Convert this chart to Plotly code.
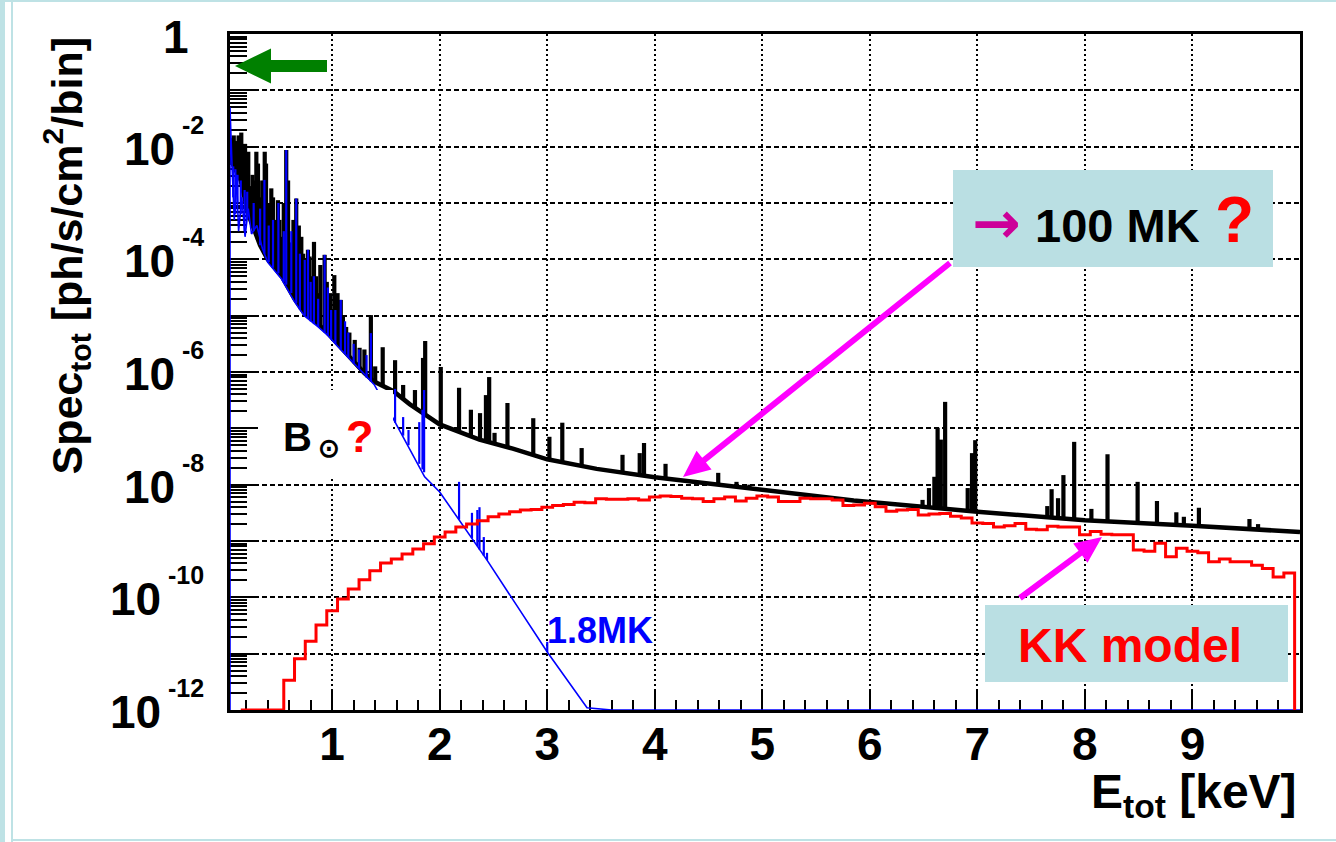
import numpy as np
import plotly.graph_objects as go

# ---------------------------------------------------------------------------
# Solar X-ray spectrum: total model (black), 1.8 MK quiet-Sun component (blue)
# and the KK model histogram (red).  Flux in ph/s/cm^2/bin vs. energy in keV.
# All fluxes below are log10(flux).
# ---------------------------------------------------------------------------

# total spectrum - continuum
black_cont_E = [0.05, 0.10, 0.15, 0.22, 0.33, 0.40, 0.53, 0.65, 0.74, 0.87,
                0.96, 1.06, 1.18, 1.30, 1.39, 1.57, 1.72, 1.88, 2.00, 2.37,
                2.68, 3.00, 3.46, 4.00, 5.00, 5.85, 7.00, 8.00, 9.00, 10.0]
black_cont_lg = [-2.20, -2.40, -2.60, -3.20, -3.75, -4.00, -4.30, -4.70, -4.95, -5.15,
                 -5.31, -5.52, -5.76, -6.02, -6.17, -6.34, -6.57, -6.77, -6.93, -7.20,
                 -7.36, -7.55, -7.72, -7.87, -8.10, -8.28, -8.48, -8.63, -8.73, -8.84]

# total spectrum - emission lines (energy, foot on the continuum, peak)
black_line_E = [0.06, 0.07, 0.085, 0.10, 0.115, 0.13, 0.14, 0.155, 0.17, 0.19,
                0.205, 0.22, 0.24, 0.26, 0.28, 0.295, 0.31, 0.33, 0.35, 0.373,
                0.385, 0.40, 0.415, 0.434, 0.45, 0.47, 0.496, 0.51, 0.53, 0.55,
                0.573, 0.59, 0.61, 0.64, 0.666, 0.69, 0.713, 0.73, 0.745, 0.76,
                0.775, 0.79, 0.81, 0.831, 0.85, 0.868, 0.89, 0.93, 0.95, 0.98,
                1.00, 1.02, 1.05, 1.08, 1.10, 1.13, 1.16, 1.21, 1.255, 1.30,
                1.36, 1.40, 1.47, 1.585, 1.66, 1.77, 1.845, 1.865, 2.01, 2.18,
                2.29, 2.375, 2.43, 2.46, 2.51, 2.63, 2.87, 3.02, 3.14, 3.32,
                3.70, 3.86, 3.90, 4.10, 4.59, 4.76, 4.88, 6.49, 6.55, 6.60,
                6.63, 6.66, 6.70, 6.91, 6.95, 6.98, 7.65, 7.69, 7.75, 7.80,
                7.90, 8.06, 8.21, 8.49, 8.67, 8.85, 8.92, 9.06, 9.53, 9.61]
black_line_foot = [-2.25, -2.30, -2.35, -2.40, -2.45, -2.50, -2.55, -2.62, -2.80, -2.95,
                   -3.10, -3.20, -3.30, -3.40, -3.50, -3.58, -3.65, -3.75, -3.82, -3.90,
                   -3.95, -4.00, -4.03, -4.08, -4.12, -4.16, -4.22, -4.25, -4.30, -4.36,
                   -4.44, -4.50, -4.57, -4.66, -4.74, -4.80, -4.87, -4.92, -4.96, -4.98,
                   -5.00, -5.03, -5.06, -5.10, -5.12, -5.15, -5.19, -5.26, -5.30, -5.35,
                   -5.39, -5.43, -5.50, -5.56, -5.60, -5.66, -5.72, -5.82, -5.92, -6.02,
                   -6.12, -6.18, -6.25, -6.36, -6.47, -6.63, -6.72, -6.75, -6.94, -7.06,
                   -7.14, -7.20, -7.23, -7.24, -7.27, -7.33, -7.47, -7.56, -7.60, -7.67,
                   -7.79, -7.83, -7.84, -7.89, -8.00, -8.04, -8.07, -8.39, -8.40, -8.41,
                   -8.41, -8.42, -8.42, -8.46, -8.47, -8.47, -8.58, -8.58, -8.59, -8.60,
                   -8.61, -8.64, -8.65, -8.68, -8.70, -8.72, -8.72, -8.74, -8.79, -8.80]
black_line_peak = [-1.95, -1.85, -1.80, -1.90, -2.00, -1.80, -1.90, -1.75, -2.10, -1.95,
                   -2.30, -2.09, -2.70, -2.50, -2.60, -2.09, -2.30, -2.90, -2.60, -2.09,
                   -2.30, -3.20, -3.00, -2.74, -2.90, -3.30, -2.95, -3.30, -3.60, -3.00,
                   -2.06, -2.60, -3.70, -3.30, -2.92, -3.40, -3.60, -3.90, -4.00, -4.10,
                   -3.83, -3.95, -4.30, -3.69, -4.30, -4.60, -4.10, -3.92, -4.40, -4.60,
                   -4.90, -4.28, -4.60, -4.72, -5.00, -5.20, -5.30, -5.43, -5.57, -5.60,
                   -4.99, -5.90, -5.56, -5.79, -6.23, -6.32, -5.75, -5.45, -5.91, -6.28,
                   -6.67, -6.73, -6.41, -6.09, -7.08, -6.55, -6.82, -7.15, -6.90, -7.35,
                   -7.47, -7.44, -7.26, -7.63, -7.79, -7.95, -8.00, -8.27, -8.06, -7.86,
                   -6.99, -7.20, -6.53, -8.06, -7.44, -7.21, -8.38, -8.08, -8.24, -7.83,
                   -7.24, -8.43, -7.46, -7.95, -8.29, -8.49, -8.57, -8.41, -8.61, -8.70]

# 1.8 MK component - continuum
blue_cont_E = [0.05, 0.07, 0.09, 0.11, 0.13, 0.16, 0.19, 0.22, 0.25, 0.30,
               0.35, 0.40, 0.53, 0.65, 0.74, 0.87, 0.96, 1.06, 1.18, 1.30,
               1.39, 1.56, 1.86, 2.00, 2.44, 3.00, 3.37, 3.60]
blue_cont_lg = [-1.30, -2.40, -3.30, -2.50, -3.50, -2.90, -3.60, -3.10, -3.55, -3.40,
                -3.80, -4.05, -4.35, -4.75, -5.00, -5.20, -5.35, -5.56, -5.80, -6.05,
                -6.22, -6.80, -7.86, -8.13, -9.34, -10.97, -11.96, -12.60]

# 1.8 MK component - emission lines
blue_line_E = [0.08, 0.10, 0.12, 0.15, 0.186, 0.21, 0.27, 0.33, 0.37, 0.41,
               0.45, 0.50, 0.55, 0.573, 0.62, 0.666, 0.70, 0.745, 0.775, 0.80,
               0.83, 0.87, 0.93, 0.96, 0.99, 1.03, 1.08, 1.12, 1.15, 1.20,
               1.25, 1.32, 1.36, 1.585, 1.66, 1.71, 1.81, 1.84, 1.855, 2.18,
               2.30, 2.35, 2.37, 2.41, 2.44, 3.00]
blue_line_foot = [-2.90, -3.20, -3.00, -3.20, -3.50, -3.30, -3.50, -3.75, -3.90, -4.05,
                  -4.15, -4.25, -4.40, -4.45, -4.60, -4.78, -4.90, -5.00, -5.05, -5.10,
                  -5.15, -5.20, -5.30, -5.35, -5.42, -5.50, -5.60, -5.68, -5.75, -5.85,
                  -5.95, -6.10, -6.17, -6.90, -7.13, -7.30, -7.63, -7.73, -7.78, -8.62,
                  -8.95, -9.09, -9.15, -9.26, -9.34, -10.97]
blue_line_peak = [-2.35, -2.40, -2.50, -2.60, -2.77, -2.80, -3.00, -3.10, -2.59, -3.40,
                  -3.30, -3.00, -3.50, -2.06, -3.50, -2.92, -3.90, -4.01, -3.83, -4.40,
                  -4.30, -4.70, -3.92, -4.50, -4.90, -4.90, -4.72, -5.10, -5.30, -5.50,
                  -5.60, -5.70, -5.31, -6.30, -6.80, -7.03, -6.89, -6.67, -6.32, -7.95,
                  -8.50, -8.45, -8.40, -8.93, -9.21, -10.79]

# KK model histogram: 0.1 keV bins starting at 0.15 keV (None = empty bin)
kk_bin_lo = 0.15
kk_bin_width = 0.1
kk_lg = [None, None, None, None,
         -11.47, -11.09, -10.78, -10.49, -10.24,
         -10.03, -9.85, -9.69, -9.53, -9.39,
         -9.32, -9.23, -9.14, -9.05, -8.93,
         -8.84, -8.75, -8.70, -8.64, -8.57,
         -8.52, -8.48, -8.45, -8.44, -8.40,
         -8.37, -8.35, -8.31, -8.32, -8.25,
         -8.26, -8.26, -8.25, -8.27, -8.22,
         -8.20, -8.21, -8.24, -8.25, -8.30,
         -8.25, -8.22, -8.29, -8.24, -8.20,
         -8.22, -8.30, -8.30, -8.24, -8.25,
         -8.25, -8.27, -8.37, -8.36, -8.33,
         -8.39, -8.47, -8.45, -8.44, -8.54,
         -8.52, -8.51, -8.56, -8.59, -8.68,
         -8.69, -8.75, -8.73, -8.69, -8.79,
         -8.80, -8.74, -8.75, -8.75, -8.89,
         -8.83, -8.88, -8.89, -8.89, -9.16,
         -9.18, -9.04, -9.28, -9.13, -9.18,
         -9.21, -9.37, -9.32, -9.37, -9.37,
         -9.43, -9.49, -9.64, -9.57]

# axis ticks
x_tick_vals = [1, 2, 3, 4, 5, 6, 7, 8, 9]
x_tick_text = ["1", "2", "3", "4", "5", "6", "7", "8", "9"]
y_label_exps = [0, -2, -4, -6, -8, -10, -12]

# ---------------------------------------------------------------------------
W, H = 1336, 842
ML, MR, MT, MB = 230, 36, 34, 132
PW, PH = W - ML - MR, H - MT - MB
X_RANGE = [0.05, 10.0]
Y_EXP_RANGE = [-12, 0]
Y_FLOOR = 10.0 ** Y_EXP_RANGE[0]
FONT = "Liberation Sans, Arial, Helvetica, sans-serif"
BOX_FILL = "#BADFE3"
BORDER = "#BEE2E5"


def px(x):
    """figure pixel column -> paper x"""
    return (x - ML) / PW


def py(y):
    """figure pixel row (from top) -> paper y"""
    return (H - MB - y) / PH


def flux(lg):
    # empty / off-scale contents are drawn on the frame minimum, ROOT style
    return [Y_FLOOR if v is None else max(10.0 ** v, Y_FLOOR) for v in lg]


def spikes(E, foot, peak):
    xs, ys = [], []
    for e, f, p in zip(E, flux(foot), flux(peak)):
        xs += [e, e, None]
        ys += [f, p, None]
    return xs, ys


fig = go.Figure()

# total spectrum
fig.add_trace(go.Scatter(x=black_cont_E, y=flux(black_cont_lg), mode="lines",
                         line=dict(color="black", width=4.5), hoverinfo="skip"))
bx, by = spikes(black_line_E, black_line_foot, black_line_peak)
fig.add_trace(go.Scatter(x=bx, y=by, mode="lines", connectgaps=False,
                         line=dict(color="black", width=4.2), hoverinfo="skip"))

# 1.8 MK component, starting and ending on the frame minimum
fig.add_trace(go.Scatter(x=[X_RANGE[0]] + blue_cont_E + [X_RANGE[1]],
                         y=[Y_FLOOR] + flux(blue_cont_lg) + [Y_FLOOR],
                         mode="lines", line=dict(color="#0000FF", width=1.6),
                         hoverinfo="skip"))
ux, uy = spikes(blue_line_E, blue_line_foot, blue_line_peak)
fig.add_trace(go.Scatter(x=ux, y=uy, mode="lines", connectgaps=False,
                         line=dict(color="#0000FF", width=2.2), hoverinfo="skip"))

# KK model step histogram
n_kk = len(kk_lg)
edges = kk_bin_lo + kk_bin_width * np.arange(n_kk + 1)
kk_vals = flux(kk_lg)
fig.add_trace(go.Scatter(x=list(edges) + [edges[-1]],
                         y=kk_vals + [kk_vals[-1], Y_FLOOR * 1e-3],
                         mode="lines", line=dict(color="#FF0000", width=3, shape="hv"),
                         hoverinfo="skip"))


# ---------------------------------------------------------------------------
def arrow_path(tail, tip, shaft_w, head_len, head_w):
    (x0, y0), (x1, y1) = tail, tip
    L = np.hypot(x1 - x0, y1 - y0)
    ux_, uy_ = (x1 - x0) / L, (y1 - y0) / L
    nx, ny = -uy_, ux_
    bx_, by_ = x1 - ux_ * head_len, y1 - uy_ * head_len
    pts = [(x0 + nx * shaft_w / 2, y0 + ny * shaft_w / 2),
           (bx_ + nx * shaft_w / 2, by_ + ny * shaft_w / 2),
           (bx_ + nx * head_w / 2, by_ + ny * head_w / 2),
           (x1, y1),
           (bx_ - nx * head_w / 2, by_ - ny * head_w / 2),
           (bx_ - nx * shaft_w / 2, by_ - ny * shaft_w / 2),
           (x0 - nx * shaft_w / 2, y0 - ny * shaft_w / 2)]
    return "M " + " L ".join(f"{px(a):.5f},{py(b):.5f}" for a, b in pts) + " Z"


def rect(x0, y0, x1, y1, color, layer="above"):
    return dict(type="rect", xref="paper", yref="paper", x0=px(x0), x1=px(x1),
                y0=py(y1), y1=py(y0), fillcolor=color, line=dict(width=0), layer=layer)


shapes = [
    # slide border
    rect(0, 0, 5, H, BORDER),
    rect(0, 0, W, 2, BORDER),
    rect(11, 0, 13, H, BORDER),
    rect(11, 839, W, 841, BORDER),
    # label boxes
    rect(258, 390, 393, 477, "white"),
    rect(953, 170, 1273, 267, BOX_FILL),
    rect(985, 605, 1288, 682, BOX_FILL),
    # pointers
    dict(type="path", xref="paper", yref="paper", layer="above",
         path=arrow_path((327, 66), (235, 66), 12, 36, 35),
         fillcolor="#008000", line=dict(width=0)),
    dict(type="path", xref="paper", yref="paper", layer="above",
         path=arrow_path((950, 263), (683, 477), 6, 27, 24),
         fillcolor="#FF00FF", line=dict(width=0)),
    dict(type="path", xref="paper", yref="paper", layer="above",
         path=arrow_path((1020, 598), (1102, 537), 6, 27, 24),
         fillcolor="#FF00FF", line=dict(width=0)),
]


def label(x, y, s, size, color="black", xanchor="center", yanchor="middle",
          family=FONT, **kw):
    return dict(xref="paper", yref="paper", x=px(x), y=py(y), text=s, showarrow=False,
                font=dict(family=family, size=size, color=color, weight="bold"),
                xanchor=xanchor, yanchor=yanchor, **kw)


anns = []
# y tick labels 1, 10^-2, ... 10^-12
EXP_SIZE, BASE_SIZE, LABEL_RIGHT = 25, 46, 206
for e in y_label_exps:
    if e == 0:
        anns.append(dict(xref="paper", yref="y", x=px(191), y=e, text="1", showarrow=False,
                         font=dict(family=FONT, size=BASE_SIZE, color="black", weight="bold"),
                         xanchor="right", yanchor="middle", yshift=-3))
        continue
    es = str(e)
    w = (0.584 + 0.556 * (len(es) - 1)) * EXP_SIZE
    anns.append(dict(xref="paper", yref="y", x=px(LABEL_RIGHT), y=e, text=es, showarrow=False,
                     font=dict(family=FONT, size=EXP_SIZE, color="black", weight="bold"),
                     xanchor="right", yanchor="middle", yshift=22))
    anns.append(dict(xref="paper", yref="y", x=px(LABEL_RIGHT - w - 1), y=e, text="10",
                     showarrow=False,
                     font=dict(family=FONT, size=BASE_SIZE, color="black", weight="bold"),
                     xanchor="right", yanchor="middle", yshift=-2))

# axis titles
anns.append(label(66, 36, "Spec<sub>tot</sub> [ph/s/cm<sup>2</sup>/bin]", 43,
                  xanchor="center", yanchor="top", textangle=-90))
anns.append(label(1299, 763, "E<sub>tot</sub> [keV]", 48, xanchor="right", yanchor="top"))

# in-plot labels
anns += [
    label(281, 437, "B", 40, xanchor="left"),
    label(316, 448, "\u2299", 26, xanchor="left"),
    label(344, 436, "?", 45, color="#FF0000", xanchor="left"),
    label(545, 630, "1.8MK", 36, color="#0000FF", xanchor="left"),
    label(996, 223, "\u2192", 58, color="#CC0099", family="DejaVu Sans"),
    label(1033, 225, "100 MK", 47, xanchor="left"),
    label(1234, 220, "?", 64, color="#FF0000"),
    label(1130, 645, "KK model", 48, color="#FF0000"),
]

fig.update_layout(
    width=W, height=H,
    margin=dict(l=ML, r=MR, t=MT, b=MB),
    paper_bgcolor="white", plot_bgcolor="white",
    showlegend=False,
    font=dict(family=FONT, color="black"),
    shapes=shapes, annotations=anns,
    xaxis=dict(range=X_RANGE, showline=True, linewidth=2.5, linecolor="black", mirror=True,
               tickmode="array", tickvals=x_tick_vals, ticktext=x_tick_text,
               ticks="inside", ticklen=20, tickwidth=2, tickcolor="black",
               tickfont=dict(family=FONT, size=46, color="black", weight="bold"),
               ticklabelstandoff=-8,
               showgrid=True, gridcolor="black", gridwidth=1.5, griddash="2px,3px",
               zeroline=False, layer="below traces",
               minor=dict(tickmode="linear", tick0=0, dtick=0.2, ticks="inside",
                          ticklen=10, tickwidth=1.5, tickcolor="black", showgrid=False)),
    yaxis=dict(type="log", range=Y_EXP_RANGE, showline=True, linewidth=2.5, linecolor="black",
               mirror=True, tickmode="linear", tick0=0, dtick=1,
               ticks="inside", ticklen=28, tickwidth=2, tickcolor="black",
               showticklabels=False,
               showgrid=True, gridcolor="black", gridwidth=1.5, griddash="5px,3px",
               zeroline=False, layer="below traces",
               minor=dict(ticks="inside", ticklen=17, tickwidth=1.5, tickcolor="black",
                          dtick="D1", showgrid=False)),
)

fig.write_html("out.html")
